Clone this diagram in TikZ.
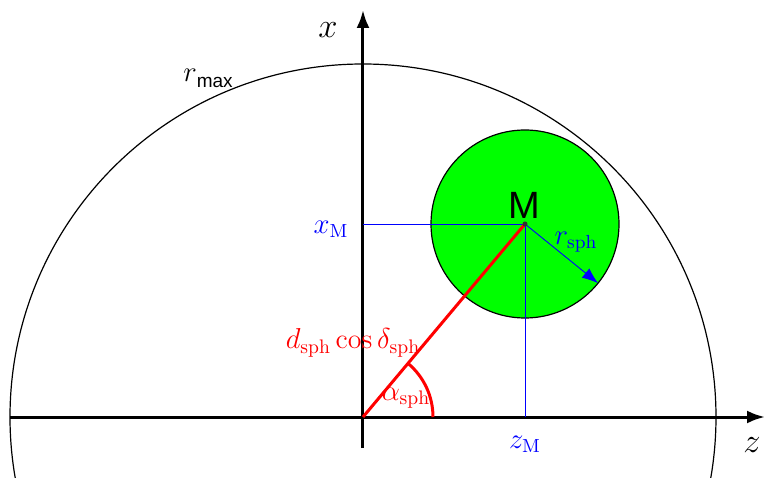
\documentclass[tikz,border=0pt]{standalone}
\usepackage{amsmath}
\usepackage{fontspec}
\newfontfamily\arialfont{Liberation Sans}
\usetikzlibrary{arrows.meta}
\definecolor{ballgreen}{RGB}{0,255,0}
\definecolor{projblue}{RGB}{0,0,255}
\definecolor{anglered}{RGB}{255,0,0}
\tikzset{
    % coordinate axes
    axisline/.style={line width=1.5pt, -{Latex[length=9pt,width=6.5pt]}},
    axislabel/.style={font=\fontsize{16.5}{20}\selectfont, inner sep=0pt},
    % projections of M onto the axes
    projline/.style={draw=projblue, line width=0.45pt},
    projlabel/.style={text=projblue, font=\fontsize{13.5}{16}\selectfont, inner sep=0pt},
    % red distance / angle marks
    redline/.style={draw=anglered, line width=1.5pt},
    redlabel/.style={text=anglered, font=\fontsize{14}{16}\selectfont, inner sep=0pt},
}

\begin{document}
\begin{tikzpicture}[x=0.5pt,y=0.5pt]
  \useasboundingbox (-363,-60) rectangle (403,417);
  \clip (-363,-60) rectangle (403,417);

  \coordinate (O) at (0,0);
  \coordinate (M) at (162,193);

  % --- outer limit r_max ---
  \draw[line width=0.6pt] (O) circle (353);
  \node[inner sep=0pt] (rmax) at (-155,339)
       {\fontsize{15}{18}\selectfont$r$\raisebox{-0.45ex}{\arialfont\fontsize{9.5}{11}\selectfont max}};

  % --- the sphere ---
  \fill[ballgreen] (M) circle (94);
  \draw[line width=0.6pt] (M) circle (94);

  % --- axes ---
  \coordinate (zstart) at (-353,0);
  \coordinate (zend) at (402,0);
  \coordinate (xstart) at (0,-31);
  \coordinate (xend) at (0,407);
  \draw[axisline] (zstart) -- (zend);
  \draw[axisline] (xstart) -- (xend);
  \node[axislabel] (zlab) at (389,-28) {$z$};
  \node[axislabel] (xlab) at (-35,387) {$x$};

  % --- projections of M ---
  \coordinate (xM) at (0,193);
  \coordinate (zM) at (162,0);
  \draw[projline] (xM) -- (M);
  \draw[projline] (M) -- (zM);
  \node[projlabel] (xMlab) at (-32,188) {$x_{\mathrm{M}}$};
  \node[projlabel] (zMlab) at (162,-27) {$z_{\mathrm{M}}$};

  % radius of the sphere
  \draw[projline, -{Latex[length=8pt,width=6pt]}, projblue] (M) -- ++(-39:94) coordinate (rim);
  \node[projlabel] (rsph) at (213,175) {$r_{\mathrm{sph}}$};

  % --- distance and angle ---
  \draw[redline] (O) -- (M);
  \draw[redline] (70,0) arc[start angle=0, end angle=50, radius=70];
  \node[redlabel] (dlab) at (-10,74)
       {$d_{\mathrm{sph}}\cos\delta_{\mathrm{sph}}$};
  \node[redlabel] (alab) at (43,19) {$\alpha_{\mathrm{sph}}$};

  % centre point
  \fill[black!80] (M) circle (2.5);
  \node[inner sep=0pt, font=\arialfont\fontsize{19}{22}\selectfont] (Mlab) at (161,212) {M};
\end{tikzpicture}
\end{document}
